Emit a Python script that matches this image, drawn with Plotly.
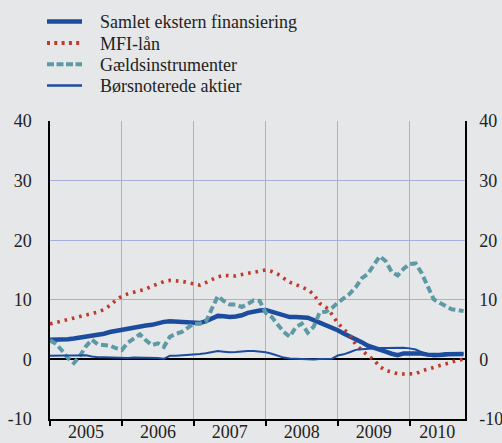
import plotly.graph_objects as go

# Monthly observations, Jan 2005 - Oct 2010 (percent, annual growth)
start_year = 2005
n_months = 70
months = [start_year + i / 12 for i in range(n_months)]

samlet = [3.3, 3.3, 3.35, 3.4, 3.5, 3.65, 3.9, 3.95, 4.05, 4.3, 4.6, 4.8,
          5.0, 5.25, 5.45, 5.55, 5.7, 5.8, 6.1, 6.3, 6.4, 6.35, 6.35, 6.2,
          6.1, 6.1, 6.4, 6.9, 7.3, 7.25, 7.1, 7.2, 7.4, 7.8, 8.05, 8.2,
          8.3, 8.0, 7.7, 7.4, 7.1, 7.1, 7.1, 7.0, 6.6, 6.2, 5.7, 5.4,
          4.9, 4.35, 3.9, 3.35, 2.9, 2.3, 1.9, 1.6, 1.3, 0.95, 0.7, 1.0,
          1.05, 1.05, 1.0, 0.8, 0.7, 0.75, 0.85, 0.9, 1.0, 0.9]

mfi_laan = [5.95, 6.2, 6.45, 6.75, 7.0, 7.15, 7.35, 7.65, 7.95, 8.35, 9.05, 9.95,
            10.6, 11.0, 11.3, 11.55, 11.8, 12.3, 12.7, 13.05, 13.25, 13.2, 13.1, 12.9,
            12.6, 12.45, 12.9, 13.4, 13.85, 14.1, 14.1, 14.0, 14.25, 14.4, 14.6, 14.85,
            15.0, 14.75, 14.3, 13.6, 12.95, 12.55, 12.15, 11.7, 10.9, 9.4, 8.8, 7.6,
            6.1, 5.15, 4.1, 2.5, 1.5, 0.65, -0.05, -1.2, -1.85, -2.2, -2.4, -2.45,
            -2.35, -2.4, -1.95, -1.65, -1.35, -1.05, -0.6, -0.35, -0.15, 0.0]

gaeld = [3.2, 2.6, 1.5, 0.2, -0.6, 0.6, 2.2, 3.3, 2.5, 2.4, 2.3, 1.9,
         1.6, 2.8, 3.6, 4.2, 3.2, 2.4, 2.7, 2.1, 3.8, 4.3, 4.6, 5.3,
         6.0, 6.0, 6.3, 8.5, 10.6, 9.8, 9.2, 9.2, 8.8, 9.3, 9.9, 9.8,
         7.8, 7.1, 5.8, 4.6, 3.8, 5.4, 6.0, 4.5, 5.5, 7.9, 8.0, 8.6,
         9.5, 10.2, 11.0, 12.1, 13.6, 14.3, 15.8, 17.3, 16.5, 14.7, 14.1, 15.2,
         16.0, 16.1, 14.5, 12.3, 10.1, 9.5, 8.9, 8.4, 8.3, 8.1]

aktier = [0.6, 0.65, 0.65, 0.65, 0.65, 0.65, 0.7, 0.5, 0.35, 0.35, 0.3, 0.25,
          0.2, 0.25, 0.3, 0.3, 0.3, 0.3, 0.25, 0.1, 0.6, 0.6, 0.65, 0.75,
          0.8, 0.9, 1.05, 1.25, 1.4, 1.3, 1.2, 1.25, 1.35, 1.4, 1.4, 1.35,
          1.2, 0.95, 0.6, 0.3, 0.15, 0.1, 0.1, 0.05, 0.0, 0.05, 0.1, 0.1,
          0.65, 0.85, 1.2, 1.6, 1.7, 1.8, 1.9, 1.9, 1.9, 1.95, 2.0, 1.95,
          1.85, 1.65, 1.2, 0.7, 0.5, 0.55, 0.65, 0.8, 0.9, 1.0]

series_names = ["Samlet ekstern finansiering", "MFI-lån", "Gældsinstrumenter",
                "Børsnoterede aktier"]

year_ticks = [2005, 2006, 2007, 2008, 2009, 2010]
year_label_pos = [2005.5, 2006.5, 2007.5, 2008.5, 2009.5, 2010.385]
year_labels = ["2005", "2006", "2007", "2008", "2009", "2010"]
y_ticks = [-10, 0, 10, 20, 30, 40]
y_tick_labels = ["-10", "0", "10", "20", "30", "40"]

BLUE = "#1c4c9e"
RED = "#c0392b"
TEAL = "#5e9aa6"
GRID = "#a9aedb"
BG = "#e6e7e9"
FONT = "Liberation Serif, Times New Roman, serif"
TXT = "#222222"

styles = [
    dict(color=BLUE, width=4.5),
    dict(color=RED, width=3.6, dash="2.6px,4.9px"),
    dict(color=TEAL, width=4, dash="7px,3.5px"),
    dict(color=BLUE, width=2),
]
legend_styles = [
    dict(color=BLUE, width=4.7),
    dict(color=RED, width=3.8, dash="3px,4.3px"),
    dict(color=TEAL, width=4, dash="7px,2.5px"),
    dict(color=BLUE, width=2.7),
]
series_values = [samlet, mfi_laan, gaeld, aktier]

fig = go.Figure()
for name, vals, st in zip(series_names, series_values, styles):
    fig.add_trace(go.Scatter(x=months, y=vals, name=name, mode="lines",
                             line=st, showlegend=False))
# invisible carrier so the secondary (label) axes are drawn
fig.add_trace(go.Scatter(x=months, y=samlet, xaxis="x2", yaxis="y2", mode="lines",
                         line=dict(width=0), opacity=0, showlegend=False,
                         hoverinfo="skip"))

# --- legend (drawn as key lines + text, positioned in pixels) ---
ML, MR, MT, MB, W, H = 50, 37, 121, 24, 502, 443
PW, PH = W - ML - MR, H - MT - MB


def px_x(px):
    return (px - ML) / PW


def px_y(py):
    return (H - MB - py) / PH


legend_rows = [21.5, 43, 64.3, 85.5]
shapes, annots = [], []
for name, st, ry in zip(series_names, legend_styles, legend_rows):
    shapes.append(dict(type="line", xref="paper", yref="paper",
                       x0=px_x(47), x1=px_x(82), y0=px_y(ry), y1=px_y(ry),
                       line=st, layer="above"))
    annots.append(dict(text=name, xref="paper", yref="paper", x=px_x(98),
                       y=px_y(ry + 0.5), xanchor="left", yanchor="middle",
                       showarrow=False,
                       font=dict(family=FONT, size=18, color=TXT)))

x_range = [2005, 2010.77]

fig.update_layout(
    width=W, height=H,
    margin=dict(l=ML, r=MR, t=MT, b=MB, autoexpand=False),
    paper_bgcolor=BG, plot_bgcolor=BG,
    font=dict(family=FONT, size=18, color=TXT),
    showlegend=False,
    shapes=shapes, annotations=annots,
    xaxis=dict(range=x_range, tickmode="array", tickvals=year_ticks,
               ticktext=["" for _ in year_ticks], showgrid=True, gridcolor=GRID,
               gridwidth=1, ticks="outside", ticklen=5, tickwidth=1.5,
               tickcolor="black", showline=True, linecolor="black", linewidth=1.5,
               zeroline=False, fixedrange=True),
    xaxis2=dict(range=x_range, overlaying="x", side="bottom", anchor="y",
                tickmode="array", tickvals=year_label_pos, ticktext=year_labels,
                showgrid=False, ticks="", showline=False, zeroline=False,
                ticklabelstandoff=0, fixedrange=True,
                tickfont=dict(family=FONT, size=18, color=TXT)),
    yaxis=dict(range=[-10, 40], tickmode="array", tickvals=y_ticks,
               ticktext=y_tick_labels,
               showgrid=True, gridcolor=GRID, gridwidth=1, ticks="",
               showline=True, linecolor="black", linewidth=1.5,
               zeroline=True, zerolinecolor="black", zerolinewidth=1.5,
               ticklabelstandoff=13, fixedrange=True),
    yaxis2=dict(range=[-10, 40], overlaying="y", side="right", anchor="x",
                tickmode="array", tickvals=y_ticks, ticktext=y_tick_labels,
                showgrid=False, ticks="",
                showline=True, linecolor="black", linewidth=1.5, zeroline=False,
                ticklabelstandoff=9, fixedrange=True,
                tickfont=dict(family=FONT, size=18, color=TXT)),
)

# remove the browser's default page margin so the figure fills the window
page_css = ("document.body.style.margin='0';"
            "document.body.style.background='%s';" % BG)
fig.write_html("out.html", config={"displayModeBar": False}, post_script=page_css)
